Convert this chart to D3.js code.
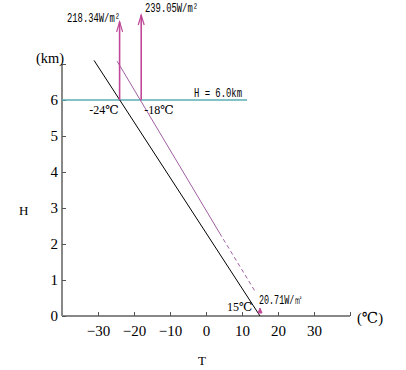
<!DOCTYPE html>
<html>
<head>
<meta charset="utf-8">
<script src="https://cdn.jsdelivr.net/npm/d3@7"></script>
<style>
  body { margin: 0; background: #fff; }
  svg text { fill: #000; }
  .serif { font-family: "Liberation Serif", "DejaVu Serif", serif; }
  .mono { font-family: "Liberation Mono", "DejaVu Sans Mono", monospace; }
</style>
</head>
<body>
<svg id="chart" width="406" height="370"></svg>
<script>
// tick values
let xTicks = [-30, -20, -10, 0, 10, 20, 30, 40];
let yTicks = [0, 1, 2, 3, 4, 5, 6, 7];

// temperature profiles (T in C, H in km)
let surfaceProfile = [{T: 15, H: 0}, {T: -31.1, H: 7.1}];
let warmProfileSolid = [{T: -24.7, H: 7.08}, {T: 3.8, H: 2.3}];
let warmProfileDashed = [{T: 3.8, H: 2.3}, {T: 13.6, H: 0.69}];

// outgoing flux arrows
let fluxArrows = [
    {T: -24, H0: 6, H1: 8.17, label: "218.34W/m²", lx: 67, ly: 21, w: 53},
    {T: -18, H0: 6, H1: 8.36, label: "239.05W/m²", lx: 145, ly: 11, w: 53}
];
let surfaceArrow = {T: 15, label: "20.71W/㎡"};

// level line
let levelH = 6;
let levelLabel = "H = 6.0km";
let pointLabels = [{T: -24, text: "-24℃", anchor: "end"}, {T: -18, text: "-18℃", anchor: "start"}];

let svg = d3.select('#chart');

let x = d3.scaleLinear().domain([-40, 40]).range([62, 350]);
let y = d3.scaleLinear().domain([0, 7]).range([316, 64]);

let line = d3.line().x(function(d){ return x(d.T); }).y(function(d){ return y(d.H); });

// axes
let xAxis = d3.axisBottom(x).tickValues(xTicks).tickSize(-4).tickPadding(9)
    .tickFormat(function(d){ return d == 40 ? '' : d3.format('d')(d); });
let gx = svg.append('g').attr('transform', 'translate(0,' + y(0) + ')').call(xAxis);
gx.select('.domain').attr('d', 'M' + x(-40) + ',0H' + x(40)).attr('stroke', '#888').attr('stroke-width', 2);
gx.selectAll('.tick line').attr('stroke', '#555');
gx.selectAll('text').attr('class', 'serif').style('font-size', '15px');

let yAxis = d3.axisLeft(y).tickValues(yTicks).tickSize(-4).tickPadding(4)
    .tickFormat(function(d){ return d == 7 ? '' : d; });
let gy = svg.append('g').attr('transform', 'translate(' + x(-40) + ',0)').call(yAxis);
gy.select('.domain').attr('d', 'M0,' + y(7) + 'V' + y(0)).attr('stroke', '#888').attr('stroke-width', 2);
gy.selectAll('.tick line').attr('stroke', '#555');
gy.selectAll('text').attr('class', 'serif').style('font-size', '15px');

// axis titles
svg.append('text').attr('class', 'serif').attr('x', 36).attr('y', 63).style('font-size', '15px')
    .attr('textLength', 28).attr('lengthAdjust', 'spacingAndGlyphs').text('(km)');
svg.append('text').attr('class', 'serif').attr('x', 357).attr('y', 323).style('font-size', '15px')
    .attr('textLength', 26).attr('lengthAdjust', 'spacingAndGlyphs').text('(℃)');
svg.append('text').attr('class', 'serif').attr('x', 19).attr('y', 215).style('font-size', '13px').text('H');
svg.append('text').attr('class', 'serif').attr('x', 198).attr('y', 365).style('font-size', '13px').text('T');

// H = 6 km line
svg.append('line')
    .attr('x1', x(-40)).attr('x2', 247)
    .attr('y1', y(levelH)).attr('y2', y(levelH))
    .attr('stroke', '#5aaeb4').attr('stroke-width', 1.3);
svg.append('text').attr('class', 'mono').attr('x', 194).attr('y', 97)
    .style('font-size', '12.5px').attr('textLength', 48).attr('lengthAdjust', 'spacingAndGlyphs')
    .text(levelLabel);

// profiles
svg.append('path').attr('d', line(surfaceProfile))
    .attr('fill', 'none').attr('stroke', '#000').attr('stroke-width', 1);
svg.append('path').attr('d', line(warmProfileSolid))
    .attr('fill', 'none').attr('stroke', '#a060a0').attr('stroke-width', 1);
svg.append('path').attr('d', line(warmProfileDashed))
    .attr('fill', 'none').attr('stroke', '#a060a0').attr('stroke-width', 1)
    .attr('stroke-dasharray', '4,3');

// flux arrows
let arrowColor = '#c04898';
fluxArrows.forEach(function(a){
    let ax = x(a.T), ay = y(a.H1);
    svg.append('line').attr('x1', ax).attr('x2', ax).attr('y1', y(a.H0)).attr('y2', ay)
        .attr('stroke', arrowColor).attr('stroke-width', 1.6);
    svg.append('path').attr('d', 'M' + (ax - 3) + ',' + (ay + 10) + 'L' + ax + ',' + ay + 'L' + (ax + 3) + ',' + (ay + 10))
        .attr('fill', 'none').attr('stroke', arrowColor).attr('stroke-width', 1.2);
    svg.append('text').attr('class', 'mono').attr('x', a.lx).attr('y', a.ly + 1)
        .style('font-size', '12.5px').attr('textLength', a.w).attr('lengthAdjust', 'spacingAndGlyphs')
        .text(a.label);
});

// small surface arrow
let sx = x(surfaceArrow.T);
svg.append('path').attr('d', 'M' + (sx - 2) + ',' + (y(0) - 3) + 'L' + sx + ',' + (y(0) - 8) + 'L' + (sx + 2) + ',' + (y(0) - 3) + 'Z')
    .attr('fill', arrowColor).attr('stroke', arrowColor).attr('stroke-width', 1);
svg.append('text').attr('class', 'mono').attr('x', 259).attr('y', 304)
    .style('font-size', '12.5px').attr('textLength', 44).attr('lengthAdjust', 'spacingAndGlyphs')
    .text(surfaceArrow.label);
svg.append('text').attr('class', 'serif').attr('x', 227).attr('y', 311)
    .style('font-size', '12px').text('15℃');

// point labels at H = 6
pointLabels.forEach(function(p){
    svg.append('text').attr('class', 'serif')
        .attr('x', x(p.T) + (p.anchor == 'end' ? -1 : 3)).attr('y', 114)
        .attr('text-anchor', p.anchor).style('font-size', '12px').text(p.text);
});
</script>
</body>
</html>
